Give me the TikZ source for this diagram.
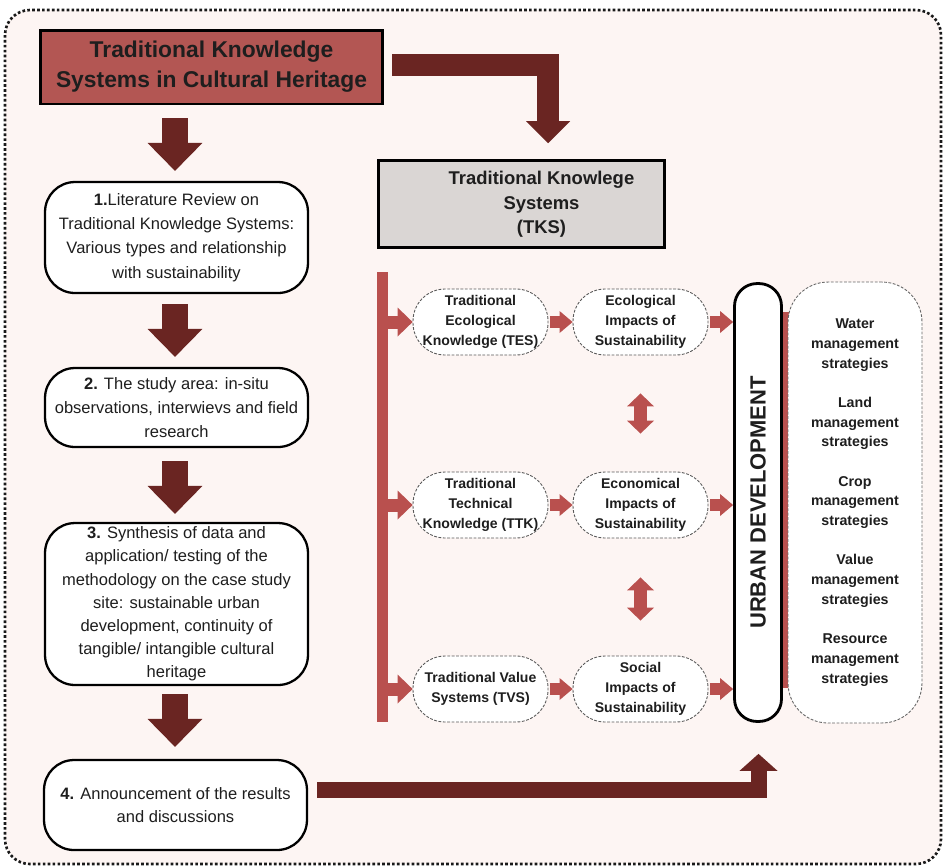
\documentclass[tikz,border=0pt]{standalone}
\usepackage{fontspec}
\setmainfont{Liberation Sans}
\usetikzlibrary{arrows.meta}
\definecolor{bgpink}{HTML}{FDF5F3}
\definecolor{dred}{HTML}{6A2522}
\definecolor{lred}{HTML}{B9504E}
\definecolor{tred}{HTML}{B35653}
\definecolor{tgray}{HTML}{DAD6D4}
\definecolor{ink}{HTML}{1E1E1E}
\begin{document}
\begin{tikzpicture}[x=0.02cm,y=-0.02cm,
  stepbox/.style={draw=black, line width=1.3pt, fill=white, rounded corners=0.6cm,
    minimum width=5.26cm, align=center, inner sep=2pt, text=ink,
    font=\fontsize{9.4}{13.8}\selectfont},
  oval/.style={draw=black!65, dash pattern=on 1.6pt off 0.9pt, line width=0.5pt, fill=white,
    rounded corners=0.64cm, minimum width=2.7cm, minimum height=1.32cm, align=center,
    inner sep=1pt, text=ink, font=\bfseries\fontsize{8}{11.3}\selectfont},
  bigarrow/.style={draw=dred, line width=0.52cm, -{Triangle[length=0.56cm,width=1.1cm,line width=0pt]}},
  elbowarrow/.style={draw=dred, line width=0.44cm, line join=miter, -{Triangle[length=0.44cm,width=0.88cm,line width=0pt]}},
  botarrow/.style={draw=dred, line width=0.32cm, line join=miter, -{Triangle[length=0.34cm,width=0.76cm,line width=0pt]}},
  brarrow/.style={draw=lred, line width=0.26cm, -{Triangle[length=0.3cm,width=0.58cm,line width=0pt]}},
  midarrow/.style={draw=lred, line width=0.24cm, -{Triangle[length=0.26cm,width=0.44cm,line width=0pt]}},
  dblarrow/.style={draw=lred, line width=0.26cm, {Triangle[length=0.26cm,width=0.54cm,line width=0pt]}-{Triangle[length=0.26cm,width=0.54cm,line width=0pt]}}
]
\useasboundingbox (0,0) rectangle (946,867);
\fill[white] (0,0) rectangle (946,867);
\draw[fill=bgpink, draw=black!90, line width=1.5pt, dash pattern=on 1.5pt off 1.3pt, rounded corners=0.5cm] (5,10) rectangle (941,864);

% title
\node[draw=black, line width=1.7pt, fill=tred, minimum width=6.86cm, minimum height=1.48cm,
  align=center, text=ink, font=\bfseries\fontsize{13}{17}\selectfont] (title) at (211.5,67)
  {Traditional Knowledge\\Systems in Cultural Heritage};

% left column
\node[stepbox, minimum height=2.22cm] (s1) at (176.5,237.5)
  {\textbf{1.}Literature Review on\\Traditional Knowledge Systems:\\Various types and relationship\\with sustainability};
\node[stepbox, minimum height=1.58cm] (s2) at (176.5,407.5)
  {\textbf{2.} The study area: in-situ\\observations, interwievs and field\\research};
\node[stepbox, minimum height=3.24cm, font=\fontsize{9.4}{13.2}\selectfont] (s3) at (176.5,604)
  {\textbf{3.} Synthesis of data and\\application/ testing of the\\methodology on the case study\\site: sustainable urban\\development, continuity of\\tangible/ intangible cultural\\heritage};
\node[stepbox, minimum height=1.8cm, font=\fontsize{9.4}{13}\selectfont] (s4) at (175.5,805)
  {\textbf{4.} Announcement of the results\\and discussions};

\coordinate (colx) at (175,0);
\draw[bigarrow, shorten <=0.26cm, shorten >=0.2cm] (title.south -| colx) -- (s1.north -| colx);
\draw[bigarrow, shorten <=0.2cm, shorten >=0.2cm] (s1.south -| colx) -- (s2.north -| colx);
\draw[bigarrow, shorten <=0.26cm, shorten >=0.16cm] (s2.south -| colx) -- (s3.north -| colx);
\draw[bigarrow, shorten <=0.16cm, shorten >=0.24cm] (s3.south -| colx) -- (s4.north -| colx);

% TKS
\node[draw=black, line width=1.7pt, fill=tgray, minimum width=5.74cm, minimum height=1.64cm,
  text=ink, font=\bfseries\fontsize{10.5}{14.2}\selectfont] (tks) at (521.5,204)
  {\hspace*{0.8cm}\begin{tabular}{@{}c@{}}Traditional Knowlege\\Systems\\(TKS)\end{tabular}};

\coordinate (e1) at (548,65);
\draw[elbowarrow, shorten <=0.16cm, shorten >=0.32cm] (title.east |- e1) -- (e1) -- (tks.north -| e1);

% red bar
\node[fill=lred, inner sep=0pt, minimum width=0.22cm, minimum height=9cm] (bar) at (382.5,497) {};

% ovals
\node[oval] (tes) at (480.5,322) {Traditional\\Ecological\\Knowledge (TES)};
\node[oval] (ttk) at (480.5,505) {Traditional\\Technical\\Knowledge (TTK)};
\node[oval] (tvs) at (480.5,689) {Traditional Value\\Systems (TVS)};
\node[oval] (eco) at (640.5,322) {Ecological\\Impacts of\\Sustainability};
\node[oval] (econ) at (640.5,505) {Economical\\Impacts of\\Sustainability};
\node[oval] (soc) at (640.5,689) {Social\\Impacts of\\Sustainability};

% red strip and strategies
\fill[lred] (780,312) rectangle (790,688);
\node[draw=black, line width=1.6pt, fill=white, rotate=90, minimum width=8.76cm, minimum height=0.94cm,
  rounded corners=0.45cm, text=ink, font=\bfseries\fontsize{12.5}{14}\selectfont] (ud) at (758,502.5)
  {URBAN DEVELOPMENT};
\node[draw=black!60, dash pattern=on 1.6pt off 0.9pt, line width=0.5pt, fill=white,
  minimum width=2.68cm, minimum height=8.82cm, rounded corners=0.8cm, align=center, text=ink,
  font=\bfseries\fontsize{8.1}{11.2}\selectfont] (strat) at (855,502.5)
  {Water\\management\\strategies\\[11.2pt]Land\\management\\strategies\\[11.2pt]Crop\\management\\strategies\\[11.2pt]Value\\management\\strategies\\[11.2pt]Resource\\management\\strategies};

% branch arrows
\draw[brarrow] (bar.east |- tes.west) -- (tes.west);
\draw[brarrow] (bar.east |- ttk.west) -- (ttk.west);
\draw[brarrow] (bar.east |- tvs.west) -- (tvs.west);

\draw[midarrow, shorten <=1pt] (tes.east) -- (eco.west);
\draw[midarrow, shorten <=1pt] (ttk.east) -- (econ.west);
\draw[midarrow, shorten <=1pt] (tvs.east) -- (soc.west);

\draw[midarrow, shorten <=1pt] (eco.east) -- (eco.east -| ud.north);
\draw[midarrow, shorten <=1pt] (econ.east) -- (econ.east -| ud.north);
\draw[midarrow, shorten <=1pt] (soc.east) -- (soc.east -| ud.north);

\draw[dblarrow, shorten <=0.76cm, shorten >=0.76cm] (eco.south) -- (econ.north);
\draw[dblarrow, shorten <=0.78cm, shorten >=0.7cm] (econ.south) -- (soc.north);

% bottom elbow
\coordinate (e2) at (758.5,790);
\draw[botarrow, shorten <=0.18cm, shorten >=0.62cm] (s4.east |- e2) -- (e2) -- (ud.west -| e2);
\end{tikzpicture}
\end{document}
